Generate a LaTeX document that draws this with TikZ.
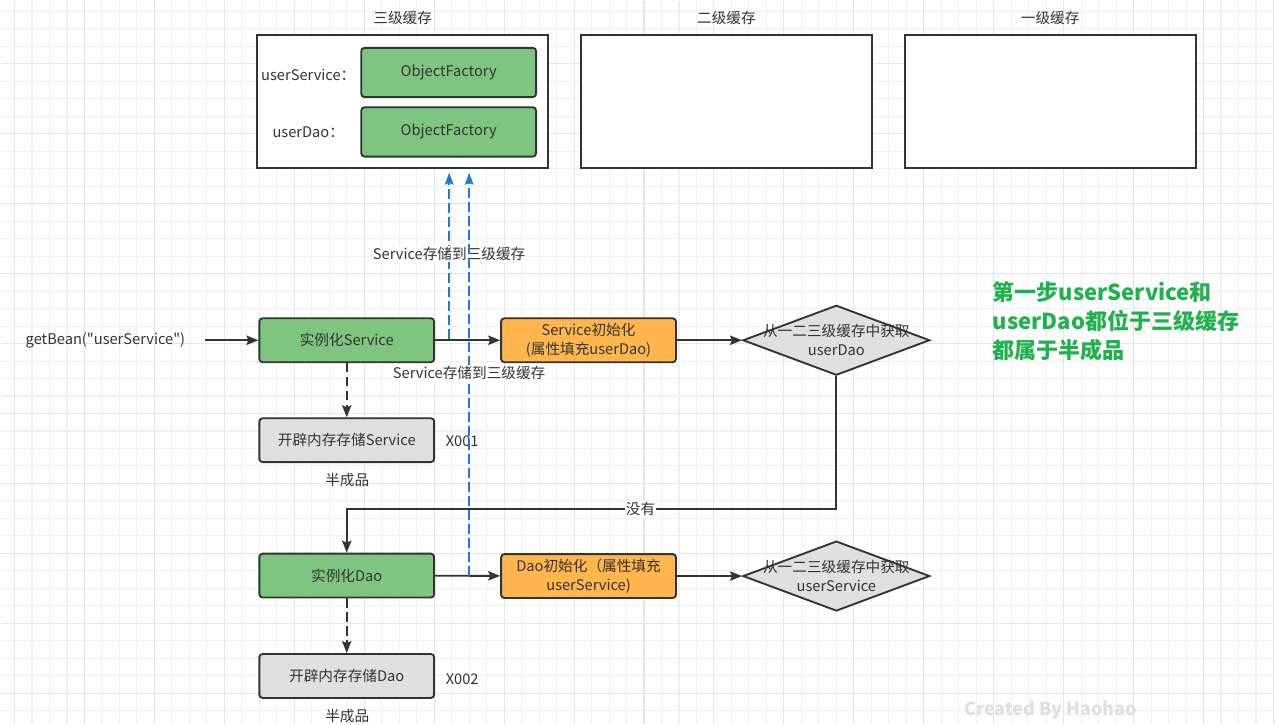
\documentclass[tikz,border=0pt]{standalone}
\usepackage{fontspec}
\setmainfont{Noto Sans CJK SC}
\newfontfamily\plainfont{Noto Sans CJK SC}
\usetikzlibrary{shapes.geometric,arrows.meta,positioning}
\definecolor{ink}{HTML}{333333}
\definecolor{boxgreen}{HTML}{7EC680}
\definecolor{boxorange}{HTML}{FFB74D}
\definecolor{boxgray}{HTML}{E0E0E0}
\definecolor{saveblue}{HTML}{1F7BCF}
\definecolor{notegreen}{HTML}{1EB14C}
\definecolor{gridminor}{HTML}{F1F1F1}
\definecolor{gridmajor}{HTML}{E6E6E6}

\begin{document}
\begin{tikzpicture}[
x=0.75pt, y=-0.75pt,
every node/.style={
  font=\fontsize{11}{14}\selectfont,
  text=ink
  },
cache/.style={
  draw=ink,
  line width=1.5pt,
  minimum width=218.25pt,
  minimum height=100.5pt,
  inner sep=0pt
  },
factory/.style={
  draw=ink,
  fill=boxgreen,
  rounded corners=2.5pt,
  line width=1.4pt,
  minimum width=131.25pt,
  minimum height=37pt
  },
proc/.style={
  draw=ink,
  rounded corners=2.5pt,
  line width=1.4pt,
  minimum width=131.25pt,
  minimum height=33pt,
  align=center
  },
create/.style={proc, fill=boxgreen},
init/.style={proc, fill=boxorange},
store/.style={proc, fill=boxgray},
decision/.style={
  diamond,
  draw=ink,
  fill=boxgray,
  line width=1.4pt,
  minimum width=140.25pt,
  minimum height=52.5pt,
  inner sep=0pt
  },
flow/.style={
  draw=ink,
  line width=1.4pt,
  -{Stealth[length=9pt,width=7pt,inset=1.5pt]}
  },
save/.style={
  draw=saveblue,
  line width=1.4pt,
  dash pattern=on 7.5pt off 3pt,
  -{Stealth[length=9pt,width=6.5pt,inset=1.5pt]}
  },
plain/.style={
  inner sep=1pt
  }
]
% background grid
\fill[white] (0,0) rectangle (1275,724);
\foreach \gx in {14,31.5,...,1275}
  \draw[gridminor, line width=0.8pt] (\gx,0) -- (\gx,724);
\foreach \gy in {10.8,28.3,...,724}
  \draw[gridminor, line width=0.8pt] (0,\gy) -- (1275,\gy);
\foreach \gx in {14,84,...,1275}
  \draw[gridmajor, line width=0.8pt] (\gx,0) -- (\gx,724);
\foreach \gy in {63.3,133.3,...,724}
  \draw[gridmajor, line width=0.8pt] (0,\gy) -- (1275,\gy);
\useasboundingbox (0,0) rectangle (1275,724);

% caches
\node[cache, fill=white] (l3) at (402.5,101) {};
\node[cache, fill=white] (l2) at (726.5,101) {};
\node[cache, fill=white] (l1) at (1050.5,101) {};
\node[plain] (t3) at (402.5,17) {三级缓存};
\node[plain] (t2) at (726.5,17) {二级缓存};
\node[plain] (t1) at (1050.5,17) {一级缓存};
\node[factory] (fs) at (448.5,72) {ObjectFactory};
\node[factory] (fd) at (448.5,131.5) {ObjectFactory};
\node[plain] (ks) at (308,74) {userService：};
\node[plain] (kd) at (308,132) {userDao：};

% service flow
\node[plain] (get) at (105,340) {\plainfont getBean("userService")};
\node[create] (newS) at (346.5,340) {实例化Service};
\node[init] (initS) at (588.5,340) {Service初始化\\(属性填充userDao)};
\node[decision, label={[align=center]center:从一二三级缓存中获取\\userDao}] (askS) at (836.5,340) {};
\node[store] (memS) at (346.5,440) {开辟内存存储Service};
\node[plain] (x1) at (462,441) {X001};
\node[plain] (h1) at (347,480) {半成品};

% dao flow
\node[create] (newD) at (346.5,575.5) {实例化Dao};
\node[init] (initD) at (588.5,576) {Dao初始化（属性填充\\userService)};
\node[decision, label={[align=center]center:从一二三级缓存中获取\\userService}] (askD) at (836.5,576) {};
\node[store] (memD) at (346.5,676) {开辟内存存储Dao};
\node[plain] (x2) at (462,679) {X002};
\node[plain] (h2) at (347,716) {半成品};

\coordinate (getE) at (205,340);
\coordinate (sS) at (449,339);
\coordinate (sD) at (469,576);

\draw[flow] (getE) -- (newS);
\draw[flow] (newS) -- (initS);
\draw[flow] (initS) -- (askS);
\draw[flow, dash pattern=on 7pt off 3.5pt] (newS) -- (memS);
\draw[flow] (askS.south) -- ++(0,133) -| node[pos=0.2, fill=white, inner sep=1pt] {没有} (newD.north);
\draw[flow] (newD) -- (initD);
\draw[flow] (initD) -- (askD);
\draw[flow, dash pattern=on 7pt off 3.5pt] (newD) -- (memD);

% saved to level three
\draw[save, shorten >=2.5pt] (sS) -- node[midway, fill=white, inner sep=1pt] {Service存储到三级缓存} (sS |- l3.south);
\draw[save, shorten >=2.5pt] (sD) -- node[midway, fill=white, inner sep=1pt] {Service存储到三级缓存} (sD |- l3.south);

% note
\node[plain, anchor=west, align=left, inner sep=0pt, text=notegreen,
  font=\fontsize{16.5}{22}\selectfont\bfseries] (note) at (993,321)
  {第一步userService和\\userDao都位于三级缓存\\都属于半成品};
\node[plain, text=gray!25, font=\fontsize{13.5}{16}\selectfont\bfseries] (mark) at (1051,710) {Created By Haohao};
\end{tikzpicture}
\end{document}
